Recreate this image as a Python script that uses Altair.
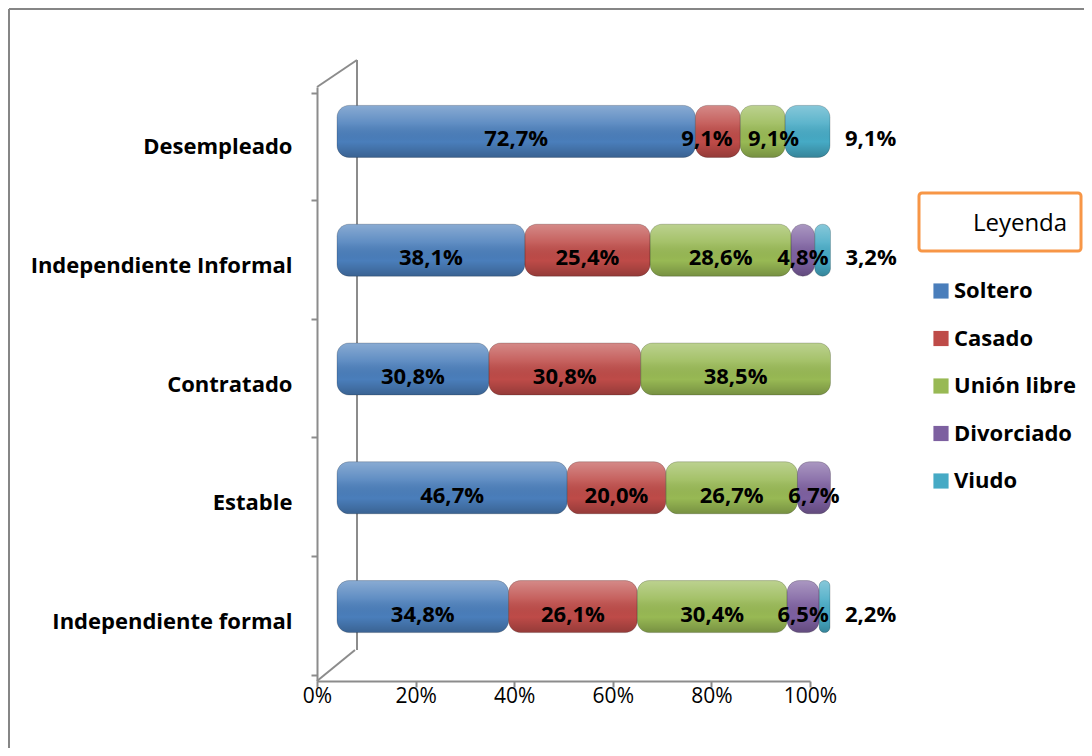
import altair as alt
import pandas as pd

categories = ["Desempleado", "Independiente Informal", "Contratado", "Estable", "Independiente formal"]
series = ["Soltero", "Casado", "Unión libre", "Divorciado", "Viudo"]
soltero = [72.7, 38.1, 30.8, 46.7, 34.8]
casado = [9.1, 25.4, 30.8, 20.0, 26.1]
union_libre = [9.1, 28.6, 38.5, 26.7, 30.4]
divorciado = [0.0, 4.8, 0.0, 6.7, 6.5]
viudo = [9.1, 3.2, 0.0, 0.0, 2.2]
colors = ["#4A7EBB", "#BE4B48", "#98B954", "#7D60A0", "#46AAC5"]
x_ticks = [0, 0.2, 0.4, 0.6, 0.8, 1.0]

values = [soltero, casado, union_libre, divorciado, viudo]
rows = []
for ci, cat in enumerate(categories):
    cum = 0.0
    for si, s in enumerate(series):
        v = values[si][ci]
        rows.append({"cat": cat, "serie": s, "order": si, "value": v,
                     "start": cum / 100.0, "end": (cum + v) / 100.0,
                     "mid": (cum + v / 2.0) / 100.0})
        cum += v
df = pd.DataFrame(rows)

FONT = "Open Sans"
GRAY = "#8C8C8C"

x_enc = alt.X("start:Q", scale=alt.Scale(domain=[0, 1], nice=False),
              axis=alt.Axis(values=x_ticks, format="%", title=None, grid=False,
                            labelFont=FONT, labelFontSize=21, labelColor="black",
                            labelFlush=False,
                            domainColor=GRAY, domainWidth=2, tickColor=GRAY,
                            tickWidth=2, tickSize=6, labelPadding=-2))
y_enc = alt.Y("cat:N", sort=categories,
              axis=alt.Axis(title=None, labelFont=FONT, labelFontSize=22,
                            labelFontWeight="bold", labelColor="black", labelLimit=0,
                            domainColor=GRAY, domainWidth=2, tickColor=GRAY,
                            tickWidth=2, tickSize=6, tickBand="extent", grid=False,
                            labelPadding=19))
y_plain = alt.Y("cat:N", sort=categories)

base = alt.Chart(df).transform_filter("datum.value > 0")

bars = base.mark_bar(size=52, cornerRadius=12, xOffset=20, x2Offset=20,
                     yOffset=-15, y2Offset=-15).encode(
    x=x_enc, x2="end:Q", y=y_enc,
    color=alt.Color("serie:N", scale=alt.Scale(domain=series, range=colors),
                    legend=alt.Legend(title=None, orient="none", legendX=613, legendY=193,
                                      symbolType="square", symbolSize=230,
                                      symbolStrokeWidth=0, labelFont=FONT,
                                      labelFontSize=22, labelFontWeight="bold",
                                      labelColor="black", rowPadding=25.5,
                                      labelOffset=2, padding=0)),
    order=alt.Order("order:Q"),
)

shade = alt.LinearGradient(
    gradient="linear", x1=0, y1=0, x2=0, y2=1,
    stops=[alt.GradientStop(color="rgba(255,255,255,0.35)", offset=0),
           alt.GradientStop(color="rgba(255,255,255,0.12)", offset=0.35),
           alt.GradientStop(color="rgba(0,0,0,0.0)", offset=0.7),
           alt.GradientStop(color="rgba(0,0,0,0.22)", offset=1)])

gloss = base.mark_bar(size=52, cornerRadius=12, xOffset=20, x2Offset=20,
                      yOffset=-15, y2Offset=-15, color=shade,
                      stroke="rgba(0,0,0,0.18)", strokeWidth=1).encode(
    x="start:Q", x2="end:Q", y=y_plain)

label_expr = "replace(format(datum.value, '.1f'), '.', ',') + '%'"
# narrow neighbouring segments: labels pushed apart as in the original
pos_expr = ("datum.value < 10 && datum.serie == 'Casado' ? datum.mid - 0.022 : "
            "(datum.value < 10 && datum.serie == 'Unión libre' ? datum.mid + 0.022 : datum.mid)")

inner = base.transform_filter("datum.serie != 'Viudo'").transform_calculate(
    lab=label_expr, lx=pos_expr).mark_text(font=FONT, fontSize=22, fontWeight="bold",
                                           color="black", dx=20, dy=-7).encode(
    x="lx:Q", y=y_plain, text="lab:N")

outer = base.transform_filter("datum.serie == 'Viudo'").transform_calculate(
    lab=label_expr).mark_text(font=FONT, fontSize=22, fontWeight="bold",
                               color="black", align="left", dx=35, dy=-7).encode(
    x="end:Q", y=y_plain, text="lab:N")

deco = alt.Chart(pd.DataFrame({"k": [0]}))
wall_back = deco.mark_rule(color=GRAY, strokeWidth=2).encode(
    x=alt.value(40), y=alt.value(-27), y2=alt.value(563))
wall_top = deco.mark_rule(color=GRAY, strokeWidth=2).encode(
    x=alt.value(0), x2=alt.value(40), y=alt.value(0), y2=alt.value(-27))
wall_bottom = deco.mark_rule(color=GRAY, strokeWidth=2).encode(
    x=alt.value(0), x2=alt.value(38), y=alt.value(594), y2=alt.value(563))
frame_top = deco.mark_rule(color="#868686", strokeWidth=2).encode(
    x=alt.value(-308), x2=alt.value(780), y=alt.value(-78))
frame_left = deco.mark_rule(color="#868686", strokeWidth=2).encode(
    x=alt.value(-308), y=alt.value(-78), y2=alt.value(680))
box = deco.mark_rect(fill="white", stroke="#F79646", strokeWidth=3, cornerRadius=3).encode(
    x=alt.value(602), x2=alt.value(764), y=alt.value(106), y2=alt.value(164))
box_text = deco.mark_text(font=FONT, fontSize=24, color="black").encode(
    x=alt.value(703), y=alt.value(137), text=alt.value("Leyenda"))

chart = alt.layer(frame_top, frame_left, wall_back, wall_top, wall_bottom,
                  bars, gloss, inner, outer, box, box_text).properties(
    width=493, height=594, background="white",
    padding={"left": 309, "top": 79, "right": 274, "bottom": 67},
    autosize=alt.AutoSizeParams(type="none"),
).configure_view(stroke=None).configure_axis(grid=False)

chart.save("out.html", embed_options={"renderer": "svg", "actions": False})
